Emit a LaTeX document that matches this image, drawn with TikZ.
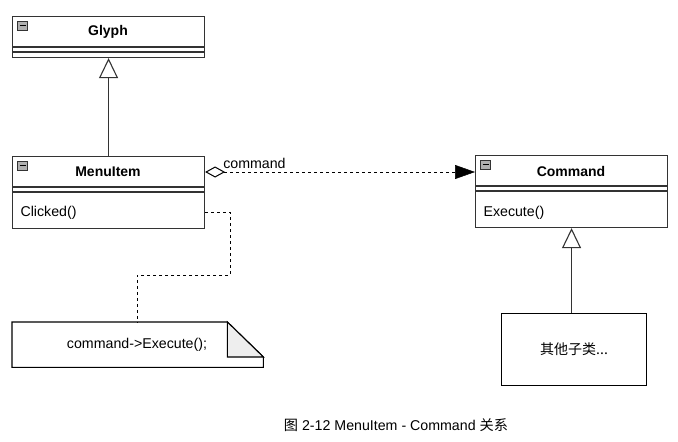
\documentclass[tikz,border=0pt]{standalone}
\usepackage{fontspec}
\setmainfont{Liberation Sans}
\newfontfamily\cjk{Noto Sans CJK SC}
\usetikzlibrary{arrows.meta,calc}
\definecolor{lc}{HTML}{333333}
\definecolor{icongray}{HTML}{B0B0B0}
\definecolor{foldgray}{HTML}{EEEEEE}
\tikzset{
  classbox/.style={draw=lc, line width=1.1pt, anchor=north west, minimum width=192pt, inner sep=0pt},
  title/.style={font=\bfseries\fontsize{14}{16}\selectfont, anchor=center},
  member/.style={font=\fontsize{14.2}{16}\selectfont, anchor=west},
  dashline/.style={draw=black, line width=1pt, dash pattern=on 3pt off 3pt},
  inherit/.style={draw=lc, line width=1.1pt, -{Triangle[open,length=20pt,width=19pt,line width=1.1pt]}},
}
\newcommand{\mkicon}[1]{%
  \draw[draw=lc, fill=icongray, line width=0.6pt] ($(#1)+(5.5,5.5)$) rectangle ++(10,9);
  \draw[draw=black, line width=1pt] ($(#1)+(7.5,9.5)$) -- ++(6,0);
}
\begin{document}
\begin{tikzpicture}[x=1pt,y=-1pt]
\useasboundingbox[fill=white] (0,0) rectangle (678,442);

% Glyph
\node[classbox, minimum height=41pt] (glyph) at (12,16) {};
\node[title] (glyphT) at (108,32) {Glyph};
\draw[lc, line width=1.1pt] (12,47) -- (204,47);
\draw[lc, line width=1.1pt] (12,52) -- (204,52);
\mkicon{glyph.north west}

% MenuItem
\node[classbox, minimum height=72pt] (menu) at (12,156) {};
\node[title] (menuT) at (108,172) {MenuItem};
\draw[lc, line width=1.1pt] (12,187) -- (204,187);
\draw[lc, line width=1.1pt] (12,192) -- (204,192);
\node[member] (clicked) at (17,212.5) {Clicked()};
\mkicon{menu.north west}

% Command
\node[classbox, minimum height=72pt] (cmd) at (475,155) {};
\node[title] (cmdT) at (571,171) {Command};
\draw[lc, line width=1.1pt] (475,186) -- (667,186);
\draw[lc, line width=1.1pt] (475,191) -- (667,191);
\node[member] (exec) at (480,212.5) {Execute()};
\mkicon{cmd.north west}

% Subclasses
\node[draw=black, line width=1.1pt, minimum width=145pt, minimum height=72pt, anchor=north west, inner sep=0pt] (sub) at (501,313) {};
\node[font=\cjk\fontsize{14}{16}\selectfont] (subT) at (sub.center) {其他子类...};

% Note
\node[minimum width=251pt, minimum height=45pt, anchor=north west, inner sep=0pt] (note) at (12,322) {};
\draw[draw=black, line width=1.1pt, fill=white] (note.north west) -- ($(note.north east)+(-36,0)$) -- ($(note.north east)+(0,35)$) -- (note.south east) -- (note.south west) -- cycle;
\draw[draw=black, line width=1.1pt, fill=foldgray] ($(note.north east)+(-36,0)$) -- ($(note.north east)+(-36,35)$) -- ($(note.north east)+(0,35)$) -- cycle;
\node[font=\fontsize{14.2}{16}\selectfont] (noteT) at (137,345) {command->Execute();};

% Inheritance
\draw[inherit] (menu.north) -- (glyph.south);
\draw[inherit] (sub.north -| cmd.south) -- (cmd.south);

% Aggregation
\coordinate (aggA) at ($(menu.north east)+(0,16)$);
\coordinate (aggB) at (cmd.west |- aggA);
\draw[dashline, {Diamond[open,length=20pt,width=11pt,line width=1pt,sep=0pt]}-{Triangle[length=20pt,width=14pt,line width=0.5pt]}] (aggA) -- (aggB);
\node[font=\fontsize{14.2}{16}\selectfont, anchor=south west, inner sep=1pt] (aggL) at ($(aggA)+(17,-2)$) {command};

% Note link
\coordinate (n1) at ($(menu.north east)+(0,56)$);
\coordinate (n2) at ($(n1)+(25,0)$);
\coordinate (n3) at ($(n2)+(0,63)$);
\coordinate (n4) at (noteT.north |- n3);
\draw[dashline] (n1) -- (n2) -- (n3) -- (n4) -- (n4 |- note.north);

% Caption
\node[font=\fontsize{14.2}{16}\selectfont] (cap) at (396,425) {{\cjk 图} 2-12 MenuItem - Command {\cjk 关系}};
\end{tikzpicture}
\end{document}
